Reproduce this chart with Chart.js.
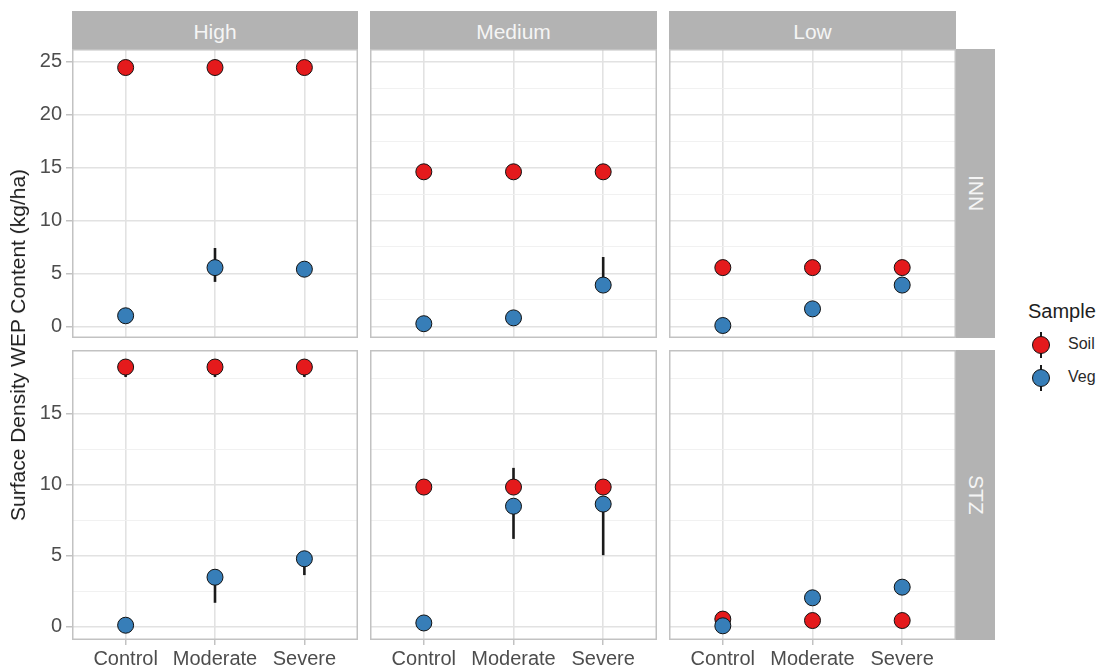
<!DOCTYPE html>
<html>
<head>
<meta charset="utf-8">
<script src="https://cdn.jsdelivr.net/npm/chart.js@4"></script>
<style>
  body { margin: 0; background: #fff; font-family: "Liberation Sans", Arial, sans-serif; }
  #wrap { position: relative; width: 1100px; height: 671px; overflow: hidden; }
  #wrap canvas, .strip, .txt, .key { position: absolute; }
  .strip { background: #b3b3b3; color: #f5f5f5; font-size: 21px; display: flex; align-items: center; justify-content: center; box-sizing: border-box; }
  .strip.top { padding-top: 3px; }
  .strip.side { writing-mode: vertical-rl; }
  .txt { white-space: nowrap; }
</style>
</head>
<body>
<div id="wrap"></div>
<script>
const severities = ["Control", "Moderate", "Severe"];
const levels = ["High", "Medium", "Low"];
const sites = ["INN", "STZ"];
const samples = ["Soil", "Veg"];

// means, one row per level (High, Medium, Low), one value per severity
const soilINN = [[24.45, 24.45, 24.45], [14.6, 14.6, 14.6], [5.55, 5.55, 5.55]];
const vegINN  = [[1.0, 5.55, 5.4], [0.25, 0.8, 3.9], [0.08, 1.65, 3.9]];
const soilSTZ = [[18.3, 18.3, 18.3], [9.85, 9.85, 9.85], [0.55, 0.45, 0.45]];
const vegSTZ  = [[0.12, 3.5, 4.8], [0.28, 8.5, 8.65], [0.08, 2.05, 2.8]];

// error ranges [low, high], null where no bar shows
const soilINNErr = [[null, null, null], [null, null, null], [null, null, null]];
const vegINNErr  = [[null, [4.2, 7.4], null], [null, null, [3.6, 6.55]], [null, null, null]];
const soilSTZErr = [[[17.6, 18.3], [17.6, 18.3], [17.6, 18.3]], [null, [9.6, 11.2], null], [null, null, null]];
const vegSTZErr  = [[null, [1.7, 3.5], [3.65, 4.8]], [null, [6.2, 8.5], [5.05, 8.65]], [null, null, null]];

// y axis per row (INN, STZ)
const yMin = [-1.1, -0.92];
const yMax = [26.2, 19.5];
const yTicks = [
  [0, 2.5, 5, 7.5, 10, 12.5, 15, 17.5, 20, 22.5, 25],
  [0, 2.5, 5, 7.5, 10, 12.5, 15, 17.5]
];

const soilColor = "#e41a1c";
const vegColor = "#377eb8";

const siteData = {
  INN: { soil: soilINN, veg: vegINN, soilErr: soilINNErr, vegErr: vegINNErr },
  STZ: { soil: soilSTZ, veg: vegSTZ, soilErr: soilSTZErr, vegErr: vegSTZErr }
};

// panel boxes
const colX = [72, 370, 669];
const colW = [286, 287, 287];
const rowY = [49, 350];
const rowH = [289, 290];
const leftGut = 72;
const bottomGut = 31;

const wrap = document.getElementById("wrap");
const font = "'Liberation Sans', Arial, sans-serif";

const panelPlugin = {
  id: "panel",
  beforeDatasetDraw(chart, args) {
    const ds = chart.data.datasets[args.index];
    const ctx = chart.ctx;
    const xs = chart.scales.x, ys = chart.scales.y;
    ctx.save();
    ctx.strokeStyle = "#1a1a1a";
    ctx.lineWidth = 2.6;
    ds.err.forEach((e, i) => {
      if (!e) return;
      const x = xs.getPixelForValue(ds.data[i].x);
      ctx.beginPath();
      ctx.moveTo(x, ys.getPixelForValue(e[0]));
      ctx.lineTo(x, ys.getPixelForValue(e[1]));
      ctx.stroke();
    });
    ctx.restore();
  },
  afterDraw(chart) {
    const a = chart.chartArea;
    const ctx = chart.ctx;
    ctx.save();
    ctx.strokeStyle = "#c2c2c2";
    ctx.lineWidth = 1.5;
    ctx.strokeRect(a.left + 0.75, a.top + 0.75, a.right - a.left - 1.5, a.bottom - a.top - 1.5);
    ctx.restore();
  }
};

function gridColor(c) { return c.tick.value % 5 === 0 ? "#e2e2e2" : "#efefef"; }
function gridWidth(c) { return c.tick.value % 5 === 0 ? 1.6 : 0.9; }
function noPad(s) { s.paddingLeft = 0; s.paddingRight = 0; s.paddingTop = 0; s.paddingBottom = 0; }

sites.forEach((site, r) => {
  levels.forEach((lev, c) => {
    const gl = c === 0 ? leftGut : 0;
    const gb = r === 1 ? bottomGut : 0;
    const cv = document.createElement("canvas");
    const w = colW[c] + gl, h = rowH[r] + gb;
    cv.width = w; cv.height = h;
    cv.style.left = (colX[c] - gl) + "px";
    cv.style.top = rowY[r] + "px";
    cv.style.width = w + "px"; cv.style.height = h + "px";
    wrap.appendChild(cv);

    const d = siteData[site];
    const mk = (vals) => vals[c].map((v, i) => ({ x: i + 1, y: v }));
    new Chart(cv, {
      type: "scatter",
      data: {
        datasets: [
          { label: "Soil", data: mk(d.soil), err: d.soilErr[c], order: 2,
            pointRadius: 8, pointBackgroundColor: soilColor, pointBorderColor: "#111", pointBorderWidth: 1 },
          { label: "Veg", data: mk(d.veg), err: d.vegErr[c], order: 1,
            pointRadius: 8, pointBackgroundColor: vegColor, pointBorderColor: "#111", pointBorderWidth: 1 }
        ]
      },
      options: {
        responsive: false,
        animation: false,
        events: [],
        layout: { padding: 0, autoPadding: false },
        plugins: { legend: { display: false }, tooltip: { enabled: false } },
        scales: {
          x: {
            type: "linear", min: 0.4, max: 3.6,
            afterBuildTicks: (s) => { s.ticks = severities.map((_, i) => ({ value: i + 1 })); },
            afterFit: (s) => { s.height = gb; noPad(s); },
            border: { display: false },
            grid: { color: "#e2e2e2", lineWidth: 1.6, drawTicks: r === 1, tickLength: 5, tickColor: "#b3b3b3", tickWidth: 1.2 },
            ticks: { display: r === 1, autoSkip: false, maxRotation: 0, padding: 2,
              color: "#4d4d4d", font: { family: font, size: 20 },
              callback: (v) => severities[v - 1] }
          },
          y: {
            type: "linear", min: yMin[r], max: yMax[r],
            afterBuildTicks: (s) => { s.ticks = yTicks[r].map(v => ({ value: v })); },
            afterFit: (s) => { s.width = gl; noPad(s); },
            border: { display: false },
            grid: { color: gridColor, lineWidth: gridWidth, drawTicks: c === 0, tickLength: 6,
              tickColor: (t) => t.tick.value % 5 === 0 ? "#b3b3b3" : "rgba(0,0,0,0)", tickWidth: 1.2 },
            ticks: { display: c === 0, padding: 4, color: "#4d4d4d", font: { family: font, size: 20 },
              callback: (v) => (v % 5 === 0 ? String(v) : "") }
          }
        }
      },
      plugins: [panelPlugin]
    });
  });
});

function addDiv(cls, text, css) {
  const el = document.createElement("div");
  el.className = cls;
  el.textContent = text;
  Object.assign(el.style, css);
  wrap.appendChild(el);
  return el;
}

// column strips
levels.forEach((lev, c) => {
  addDiv("strip top", lev, { left: colX[c] + "px", top: "11px", width: colW[c] + "px", height: "38px" });
});
// row strips
sites.forEach((site, r) => {
  addDiv("strip side", site, { left: "956px", top: rowY[r] + "px", width: "39px", height: rowH[r] + "px" });
});

// y axis title
addDiv("txt", "Surface Density WEP Content (kg/ha)", {
  left: "18px", top: "345px", fontSize: "21px", color: "#1e1e1e",
  transform: "translate(-50%, -50%) rotate(-90deg)"
});

// legend
addDiv("txt", "Sample", { left: "1028px", top: "300px", fontSize: "20px", color: "#1e1e1e" });
[soilColor, vegColor].forEach((col, i) => {
  const cy = 345 + i * 33;
  const line = document.createElement("div");
  line.className = "key";
  Object.assign(line.style, { left: "1040px", top: (cy - 13) + "px", width: "2px", height: "26px", background: "#1a1a1a" });
  wrap.appendChild(line);
  const dot = document.createElement("div");
  dot.className = "key";
  Object.assign(dot.style, { left: "1032px", top: (cy - 9) + "px", width: "16px", height: "16px",
    borderRadius: "50%", background: col, border: "1px solid #111", boxSizing: "content-box" });
  wrap.appendChild(dot);
  addDiv("txt", samples[i], { left: "1068px", top: (cy - 10) + "px", fontSize: "16px", color: "#2a2a2a" });
});
</script>
</body>
</html>
